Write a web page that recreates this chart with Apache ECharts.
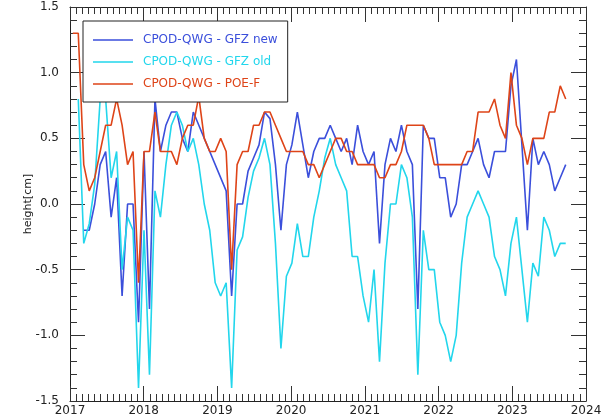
<!DOCTYPE html>
<html>
<head>
  <meta charset="utf-8">
  <title>CPOD-QWG height</title>
  <script src="https://cdn.jsdelivr.net/npm/echarts@6/dist/echarts.min.js"></script>
  <style>
    html, body { margin: 0; padding: 0; background: #fff; }
    #main { width: 608px; height: 417px; }
  </style>
</head>
<body>
  <div id="main"></div>
  <script>
  // sampling: one value every ~27 days, starting mid-January 2017
  var startYear = 2017.038;
  var stepYear = 0.0743;

  var gfzNew = [
    null, null, -0.2, -0.2, 0.0, 0.3, 0.4, -0.1, 0.2, -0.7,
    0.0, 0.0, -0.9, 0.4, -0.8, 0.8, 0.4, 0.6, 0.7, 0.7,
    0.5, 0.4, 0.7, null, null, null, null, null, 0.1, -0.7,
    0.0, 0.0, 0.25, 0.35, 0.45, 0.7, 0.65, 0.3, -0.2, 0.3,
    0.45, 0.7, 0.45, 0.2, 0.4, 0.5, 0.5, 0.6, 0.5, 0.4,
    0.5, 0.3, 0.6, 0.4, 0.3, 0.4, -0.3, 0.3, 0.5, 0.4,
    0.6, 0.4, 0.3, -0.8, 0.6, 0.5, 0.5, 0.2, 0.2, -0.1,
    0.0, 0.3, 0.3, 0.4, 0.5, 0.3, 0.2, 0.4, 0.4, 0.4,
    0.9, 1.1, 0.45, -0.2, 0.5, 0.3, 0.4, 0.3, 0.1, 0.2,
    0.3
  ];
  var gfzOld = [
    null, 0.8, -0.3, -0.15, 0.15, 0.8, 0.8, 0.2, 0.4, -0.5,
    -0.1, -0.2, -1.4, -0.2, -1.3, 0.1, -0.1, 0.3, 0.6, 0.7,
    0.6, 0.4, 0.5, 0.3, 0.0, -0.2, -0.6, -0.7, -0.6, -1.4,
    -0.35, -0.25, 0.05, 0.25, 0.35, 0.5, 0.3, -0.3, -1.1, -0.55,
    -0.45, -0.15, -0.4, -0.4, -0.1, 0.1, 0.35, 0.5, 0.3, 0.2,
    0.1, -0.4, -0.4, -0.7, -0.9, -0.5, -1.2, -0.45, 0.0, 0.0,
    0.3, 0.2, -0.1, -1.3, -0.2, -0.5, -0.5, -0.9, -1.0, -1.2,
    -1.0, -0.45, -0.1, 0.0, 0.1, 0.0, -0.1, -0.4, -0.5, -0.7,
    -0.3, -0.1, -0.5, -0.9, -0.45, -0.55, -0.1, -0.2, -0.4, -0.3,
    -0.3
  ];
  var poeF = [
    1.3, 1.3, 0.3, 0.1, 0.2, 0.4, 0.6, 0.6, 0.8, 0.6,
    0.3, 0.4, -0.6, 0.4, 0.4, 0.7, 0.4, 0.4, 0.4, 0.3,
    0.5, 0.6, 0.6, 0.82, 0.5, 0.4, 0.4, 0.5, 0.4, -0.5,
    0.3, 0.4, 0.4, 0.6, 0.6, 0.7, 0.7, 0.6, 0.5, 0.4,
    0.4, 0.4, 0.4, 0.3, 0.3, 0.2, 0.3, 0.4, 0.5, 0.5,
    0.4, 0.4, 0.3, 0.3, 0.3, 0.3, 0.2, 0.2, 0.3, 0.3,
    0.4, 0.6, 0.6, 0.6, 0.6, 0.5, 0.3, 0.3, 0.3, 0.3,
    0.3, 0.3, 0.4, 0.4, 0.7, 0.7, 0.7, 0.8, 0.6, 0.5,
    1.0, 0.6, 0.5, 0.3, 0.5, 0.5, 0.5, 0.7, 0.7, 0.9,
    0.8
  ];

  var names = ['CPOD-QWG - GFZ new', 'CPOD-QWG - GFZ old', 'CPOD-QWG - POE-F'];
  var colors = ['#3b4fdb', '#22d6ec', '#de4418'];

  function pairs(vals) {
    var out = [];
    for (var i = 0; i < vals.length; i++) {
      out.push([startYear + i * stepYear, vals[i]]);
    }
    return out;
  }

  var font = 'DejaVu Sans';
  var tickStyle = { color: '#333', width: 1 };
  // plain line for the legend (tiny corner specks keep the 40x14 box)
  var lineIcon = 'path://M0,0h0.01v0.01h-0.01z M0,6.2h40v1.6h-40z M39.99,13.99h0.01v0.01h-0.01z';

  function xAx(pos, labels) {
    return {
      type: 'value', position: pos, min: 2017, max: 2024, interval: 1,
      axisLine: { show: true, onZero: false, lineStyle: { color: '#222', width: 1 } },
      axisTick: { show: true, inside: true, length: 15, lineStyle: tickStyle },
      minorTick: { show: true, splitNumber: 12, length: 7, lineStyle: tickStyle },
      splitLine: { show: false },
      axisLabel: { show: labels, margin: 4, fontFamily: font, fontSize: 12, color: '#222',
        formatter: function (v) { return String(Math.round(v)); } }
    };
  }
  function yAx(pos, labels) {
    return {
      type: 'value', position: pos, min: -1.5, max: 1.5, interval: 0.5,
      name: labels ? 'height[cm]' : '', nameLocation: 'middle', nameGap: 36,
      nameMoveOverlap: false,
      nameTextStyle: { fontFamily: font, fontSize: 11, color: '#222' },
      axisLine: { show: true, onZero: false, lineStyle: { color: '#222', width: 1 } },
      axisTick: { show: true, inside: true, length: 15, lineStyle: tickStyle },
      minorTick: { show: true, splitNumber: 5, length: 7, lineStyle: tickStyle },
      splitLine: { show: false },
      axisLabel: { show: labels, margin: 11, fontFamily: font, fontSize: 12, color: '#222',
        formatter: function (v) { return v.toFixed(1); } }
    };
  }

  var chart = echarts.init(document.getElementById('main'), null, { renderer: 'canvas' });
  var series = [gfzNew, gfzOld, poeF].map(function (vals, k) {
    return {
      name: names[k], type: 'line', data: pairs(vals),
      symbol: 'none', showSymbol: false, connectNulls: true,
      lineStyle: { color: colors[k], width: 1.6 },
      itemStyle: { color: colors[k] },
      emphasis: { disabled: true },
      z: 2 + k
    };
  });

  chart.setOption({
    animation: false,
    backgroundColor: '#fff',
    grid: { left: 70, right: 22, top: 7, bottom: 14 },
    legend: {
      orient: 'vertical', left: 83, top: 21,
      padding: [12, 10, 11, 10], itemGap: 8,
      itemWidth: 40, itemHeight: 14,
      icon: lineIcon,
      backgroundColor: '#fff', borderColor: '#222', borderWidth: 1,
      z: 10,
      data: names.map(function (n, k) {
        return { name: n, textStyle: { color: colors[k] } };
      }),
      textStyle: { fontFamily: font, fontSize: 12, padding: [0, 0, 0, 5] }
    },
    xAxis: [xAx('bottom', true), xAx('top', false)],
    yAxis: [yAx('left', true), yAx('right', false)],
    series: series
  });
  </script>
</body>
</html>
